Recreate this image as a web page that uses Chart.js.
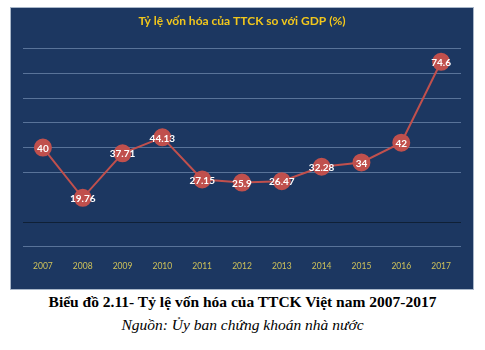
<!DOCTYPE html>
<html>
<head>
<meta charset="utf-8">
<script src="https://cdn.jsdelivr.net/npm/chart.js@4"></script>
<style>
  html, body { margin: 0; padding: 0; background: #fff; }
  body { width: 485px; height: 350px; position: relative; overflow: hidden; }
  #box {
    position: absolute; left: 10px; top: 7px; width: 462px; height: 281px;
    background: #1c3761; border: 1px solid #a9b7c9;
  }
  #box canvas { display: block; }
  .cap {
    position: absolute; left: 0; width: 485px; text-align: center;
    font-family: "Liberation Serif", "DejaVu Serif", serif; color: #000;
    line-height: 18px;
  }
  #cap1 { top: 293px; font-size: 15.5px; font-weight: bold; }
  #cap2 { top: 316px; font-size: 15.5px; font-style: italic; }
</style>
</head>
<body>
<div id="box"><canvas id="chart" width="462" height="281"></canvas></div>
<div class="cap" id="cap1">Biểu đồ 2.11- Tỷ lệ vốn hóa của TTCK Việt nam 2007-2017</div>
<div class="cap" id="cap2">Nguồn: Ủy ban chứng khoán nhà nước</div>
<script>
  // Data
  const years = ['2007', '2008', '2009', '2010', '2011', '2012', '2013', '2014', '2015', '2016', '2017'];
  const ratio = [40, 19.76, 37.71, 44.13, 27.15, 25.9, 26.47, 32.28, 34, 42, 74.6];
  const yTicks = [0, 10, 20, 30, 40, 50, 60, 70, 80];

  const RED = '#c0504d';

  // White value labels drawn on top of each point
  const valueLabels = {
    id: 'valueLabels',
    afterDatasetsDraw(chart) {
      const ctx = chart.ctx;
      const meta = chart.getDatasetMeta(0);
      ctx.save();
      ctx.font = 'bold 10px Lato, "Open Sans", sans-serif';
      ctx.fillStyle = '#ffffff';
      ctx.textAlign = 'center';
      ctx.textBaseline = 'middle';
      meta.data.forEach((pt, i) => {
        ctx.fillText(String(ratio[i]), pt.x, pt.y + 1);
      });
      ctx.restore();
    }
  };

  new Chart(document.getElementById('chart'), {
    type: 'line',
    data: {
      labels: years,
      datasets: [{
        data: ratio,
        borderColor: RED,
        borderWidth: 2,
        backgroundColor: RED,
        pointBackgroundColor: RED,
        pointBorderColor: RED,
        pointRadius: 8,
        pointHoverRadius: 8,
        tension: 0
      }]
    },
    options: {
      responsive: false,
      animation: false,
      events: [],
      layout: { padding: { left: 12, right: 12, top: 0, bottom: 12 } },
      plugins: {
        legend: { display: false },
        tooltip: { enabled: false },
        title: {
          display: true,
          text: 'Tỷ lệ vốn hóa của TTCK so với GDP (%)',
          color: '#f2c71c',
          font: { family: 'Lato, "Open Sans", sans-serif', size: 12, weight: 'bold' },
          padding: { top: 6, bottom: 20 }
        }
      },
      scales: {
        y: {
          min: 0,
          max: 80,
          afterBuildTicks(axis) { axis.ticks = yTicks.map(v => ({ value: v })); },
          ticks: { display: false },
          border: { display: false },
          grid: {
            drawTicks: false,
            lineWidth: 1,
            color(ctx) {
              const v = ctx.tick && ctx.tick.value;
              if (v === 20) return 'rgba(0,0,0,0)';
              if (v === 10) return '#0f2036';
              return 'rgba(140,165,200,0.55)';
            }
          }
        },
        x: {
          offset: true,
          border: { display: false },
          grid: { display: false },
          ticks: {
            color: '#cfc25a',
            padding: 6,
            maxRotation: 0,
            font: { family: 'Lato, "Open Sans", sans-serif', size: 8.5 }
          }
        }
      }
    },
    plugins: [valueLabels]
  });
</script>
</body>
</html>
